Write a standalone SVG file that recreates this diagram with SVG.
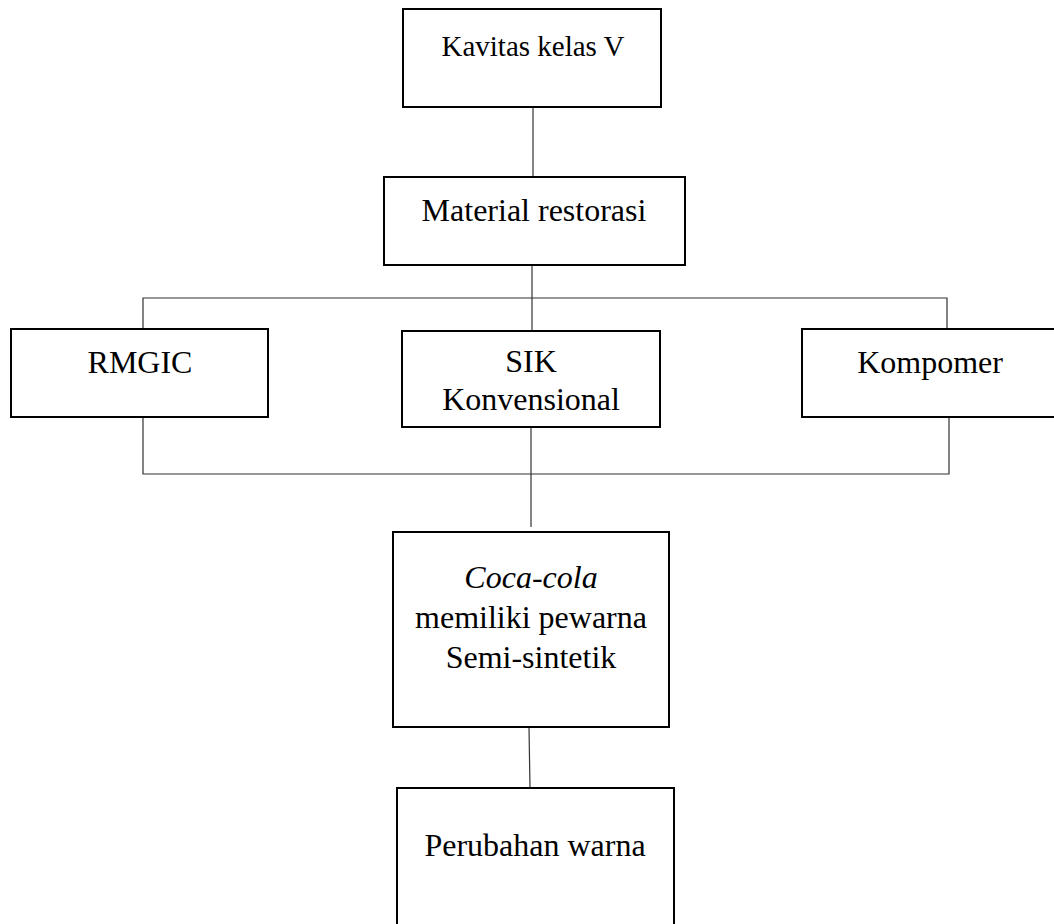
<svg xmlns="http://www.w3.org/2000/svg" width="1054" height="924" viewBox="0 0 1054 924">
<style>
.box{fill:#fff;stroke:#000;stroke-width:2}
.conn{fill:none;stroke:#333;stroke-width:1.2}
text{font-family:"Liberation Serif","Times New Roman",serif;font-size:32px;fill:#000;text-anchor:middle}
</style>
<rect width="1054" height="924" fill="#fff"/>
<g id="connectors">
<line class="conn" x1="533" y1="108" x2="533" y2="177"/>
<line class="conn" x1="532" y1="265" x2="532" y2="331"/>
<polyline class="conn" points="143,329 143,298 947,298 947,329"/>
<polyline class="conn" points="143,417 143,474 949,474 949,417"/>
<line class="conn" x1="531" y1="427" x2="531" y2="527"/>
<line class="conn" x1="529" y1="727" x2="530" y2="788"/>
</g>
<g id="kavitas">
<rect class="box" x="403" y="9" width="258" height="98"/>
<text x="533" y="56" style="font-size:29px">Kavitas kelas V</text>
</g>
<g id="material">
<rect class="box" x="384" y="177" width="301" height="88"/>
<text x="534" y="221">Material restorasi</text>
</g>
<g id="rmgic">
<rect class="box" x="11" y="329" width="257" height="88"/>
<text x="140" y="373">RMGIC</text>
</g>
<g id="sik">
<rect class="box" x="402" y="331" width="258" height="96"/>
<text x="531" y="372">SIK</text>
<text x="531" y="410">Konvensional</text>
</g>
<g id="kompomer">
<rect class="box" x="802" y="329" width="260" height="88"/>
<text x="930" y="373">Kompomer</text>
</g>
<g id="cocacola">
<rect class="box" x="393" y="532" width="276" height="195"/>
<text x="531" y="588" font-style="italic">Coca-cola</text>
<text x="531" y="628">memiliki pewarna</text>
<text x="531" y="668">Semi-sintetik</text>
</g>
<g id="perubahan">
<rect class="box" x="397" y="788" width="277" height="150"/>
<text x="535" y="856">Perubahan warna</text>
</g>
</svg>
